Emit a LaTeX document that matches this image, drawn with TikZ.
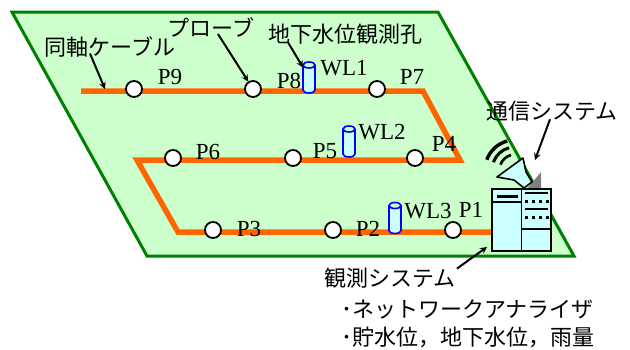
\documentclass[tikz,border=0pt]{standalone}
\usepackage{fontspec}
\setmainfont{Liberation Serif}
\newfontfamily\jp{Noto Sans CJK JP}
\usepackage{tikz}
\usetikzlibrary{positioning}

\definecolor{field}{RGB}{204,255,204}
\definecolor{fieldedge}{RGB}{0,128,0}
\definecolor{cable}{RGB}{255,102,0}
\definecolor{pale}{RGB}{204,255,255}

\begin{document}
\begin{tikzpicture}
	[x=1pt,y=-1pt,>=stealth,
	probe/.style={circle,draw,fill=white,line width=1.8pt,inner sep=0pt,minimum size=16pt},
	plabel/.style={font=\fontsize{23}{25}\selectfont,inner sep=0pt},
	jlabel/.style={font=\jp\fontsize{22}{26}\selectfont,inner sep=0pt},
	well/.style={rectangle,inner sep=0pt,outer sep=0pt,minimum width=12pt,minimum height=31pt},
	pipe/.style={draw=blue,fill=pale,line width=1.6pt},
	pointer/.style={->,line width=2pt}]
	\useasboundingbox (0,0) rectangle (630,349);
	% field
	\draw [fill=field,draw=fieldedge,line width=3pt] (12,12) -- (438,12) -- (574,256) -- (147,256) -- cycle;
	% coaxial cable
	\draw [cable,line width=5.5pt] (81,91) -- (423,91) -- (460,160) -- (137,160) -- (178,232) -- (492,232);
	% probes
	\node [probe] (p9) at (134,89) {};
	\node [probe] (p8) at (253,89) {};
	\node [probe] (p7) at (377,89) {};
	\node [probe] (p6) at (173,158) {};
	\node [probe] (p5) at (293,158) {};
	\node [probe] (p4) at (415,158) {};
	\node [probe] (p3) at (213,230) {};
	\node [probe] (p2) at (333,230) {};
	\node [probe] (p1) at (453,230) {};
	\node [plabel] at (170,77) {P9};
	\node [plabel] at (289,81) {P8};
	\node [plabel] at (412,77) {P7};
	\node [plabel] at (208,152) {P6};
	\node [plabel] at (325,151) {P5};
	\node [plabel] at (444,144) {P4};
	\node [plabel] at (249,229) {P3};
	\node [plabel] at (368,229) {P2};
	\node [plabel] at (471,210) {P1};
	% wells
	\node [well] (wl1) at (309,77.5) {};
	\node [well] (wl2) at (349,141.5) {};
	\node [well] (wl3) at (395,218) {};
	\foreach \w in {wl1,wl2,wl3}
		\draw [pipe] ([yshift=-3pt]\w.north west) -- ([yshift=3pt]\w.south west) arc (180:0:6 and 3)
			-- ([yshift=-3pt]\w.north east) arc (0:-180:6 and 3) -- cycle
			([yshift=-3pt]\w.north) ellipse (6 and 3);
	\node [plabel] at (344,68) {WL1};
	\node [plabel] at (382,132) {WL2};
	\node [plabel] at (428,211) {WL3};
	% antenna
	\fill [gray] (526,190) -- (541,172) -- (541,190) -- cycle;
	\foreach \r/\w in {15.5/2.6,23/3,30/3.4}
		\draw [line width=\w pt,shift={(515,170)}] (200:\r) arc (200:255:\r);
	\draw [fill=pale,line width=1.6pt,line join=round] (497,177) -- (523,158) -- (526,172)
		-- (532,182) -- (524,188) -- (514,180) -- cycle;
	% logger
	\node [draw,fill=pale,line width=1.6pt,minimum width=59pt,minimum height=62pt,inner sep=0pt] (pc) at (521.5,220) {};
	\draw [line width=1.6pt] (pc.north) -- (pc.south);
	\draw [line width=3pt] (497,196) -- (518,196);
	\draw [line width=1.3pt] (492,202) -- (521.5,202);
	\draw [line width=1.3pt] (525,193) -- (548,193);
	\draw [line width=1.3pt] (525,209) -- (548,209);
	\draw [line width=1.3pt] (521.5,229) -- (551,229);
	\foreach \y in {201,217}
		\foreach \x in {526,533,540,547}
			\fill (\x-1.5,\y-1.5) rectangle +(3,3);
	% texts
	\node [jlabel] (coax) at (110,47) {同軸ケーブル};
	\node [jlabel] (probelbl) at (211,27) {プローブ};
	\node [jlabel] (hole) at (345,34) {地下水位観測孔};
	\node [jlabel] (comm) at (552,111) {通信システム};
	\node [jlabel] (obs) at (390,278) {観測システム};
	\node [jlabel,anchor=west] (na) at (341,309) {･ネットワークアナライザ};
	\node [jlabel,anchor=west] (lv) at (341,337) {･貯水位，地下水位，雨量};
	% pointers
	\coordinate (cablept) at (105,89);
	\coordinate (commpt) at (535,160);
	\coordinate (obspt) at (487,247);
	\draw [pointer] ([xshift=-20pt,yshift=4pt]coax.south) -- (cablept);
	\draw [pointer] ([xshift=7pt,yshift=3pt]probelbl.south) -- (p8);
	\draw [pointer] ([xshift=-57pt,yshift=2pt]hole.south) -- (wl1);
	\draw [pointer] ([xshift=-2pt,yshift=2pt]comm.south) -- (commpt);
	\draw [pointer] ([xshift=1pt,yshift=-1pt]obs.north east) -- (obspt);
\end{tikzpicture}
\end{document}
